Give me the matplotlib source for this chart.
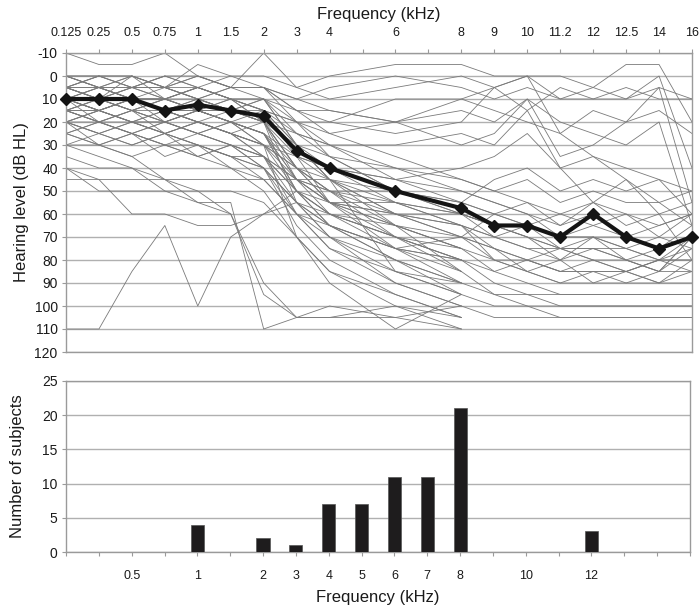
import numpy as np
import matplotlib
matplotlib.use('Agg')
import matplotlib.pyplot as plt

plt.rcParams['font.family'] = ['Liberation Sans', 'DejaVu Sans']
plt.rcParams['axes.unicode_minus'] = False

# ---------------- data ----------------
freq_labels = ['0.125', '0.25', '0.5', '0.75', '1', '1.5', '2', '3', '4', '6',
               '8', '9', '10', '11.2', '12', '12.5', '14', '16']
freq_pos = [0, 1, 2, 3, 4, 5, 6, 7, 8, 10, 12, 13, 14, 15, 16, 17, 18, 19]

median_hl = [10, 10, 10, 15, 12.5, 15, 17.5, 32.5, 40, 50, 57.5, 65, 65, 70, 60, 70, 75, 70]

N = np.nan
subject_hl = [
    [-10, -5, -5, -10, 0, 5, -10, 5, 0, -5, -5, 0, 0, 0, 5, -5, -5, 20],
    [0, 0, 5, 0, 5, 0, 0, 5, 10, 5, 0, 5, 0, 10, 5, 10, 0, 40],
    [5, 10, 5, 5, 10, 5, 5, 10, 5, 0, 5, 10, 5, 10, 10, 10, 5, 10],
    [10, 5, 0, 5, 0, 5, 5, 15, 20, 10, 10, 5, 0, 25, 15, 20, 5, 55],
    [0, 5, 10, 10, 5, 10, 15, 20, 25, 20, 15, 20, 10, 20, 25, 30, 20, 65],
    [15, 10, 15, 20, 15, 10, 20, 25, 30, 30, 25, 30, 15, 40, 35, 40, 45, 60],
    [5, 0, 0, 5, -5, 0, 5, 10, 15, 20, 30, 25, 10, 35, 30, 20, 15, 25],
    [10, 15, 10, 10, 15, 20, 15, 20, 20, 25, 20, 5, 15, 5, 10, 5, 10, 10],
    [20, 15, 20, 15, 20, 25, 30, 35, 40, 45, 40, 35, 25, 40, 55, 45, 60, 80],
    [15, 20, 15, 15, 10, 15, 10, 15, 15, 20, 10, 15, 20, 25, 35, 45, 55, 65],
    [10, 10, 15, 20, 15, 20, 25, 40, 45, 50, 60, 65, 70, 75, 80, 85, 80, 75],
    [5, 10, 5, 10, 5, 10, 10, 30, 40, 55, 60, 70, 65, 75, 75, 80, 85, 70],
    [15, 20, 25, 20, 25, 20, 30, 45, 55, 60, 65, 70, 75, 80, 70, 75, 80, 70],
    [10, 5, 10, 15, 10, 15, 15, 35, 40, 45, 50, 55, 60, 70, 65, 70, 75, 65],
    [20, 25, 20, 25, 20, 25, 20, 40, 50, 60, 70, 75, 80, 85, 85, 90, 85, 85],
    [0, 5, 0, 10, 5, 10, 15, 25, 35, 40, 50, 55, 60, 65, 55, 60, 65, 60],
    [25, 20, 25, 30, 25, 30, 35, 45, 50, 55, 65, 80, 85, 90, 90, 90, 90, 90],
    [10, 15, 10, 10, 15, 10, 20, 30, 35, 50, 55, 60, 65, 70, 70, 75, 70, 75],
    [5, 10, 10, 15, 20, 15, 20, 40, 50, 65, 75, 85, 90, 95, 95, 95, 95, 95],
    [15, 10, 15, 10, 5, 10, 15, 30, 45, 55, 65, 75, 80, 85, 80, 85, 80, 80],
    [20, 15, 10, 15, 20, 25, 30, 50, 55, 60, 60, 65, 65, 70, 70, 70, 75, 70],
    [10, 10, 5, 5, 10, 15, 10, 25, 30, 40, 45, 50, 55, 60, 55, 65, 60, 55],
    [5, 0, 5, 0, 0, 5, 10, 20, 30, 45, 55, 60, 65, 60, 65, 60, 70, 60],
    [25, 30, 35, 30, 35, 30, 40, 55, 60, 70, 80, 90, 95, 100, 100, 100, 100, 100],
    [30, 30, 25, 30, 35, 40, 45, 60, 65, 75, 85, 95, 100, 105, 105, 105, 105, 105],
    [15, 15, 20, 20, 15, 20, 25, 35, 45, 60, 70, 80, 85, 90, 85, 85, 90, 85],
    [0, 0, 5, 5, 10, 5, 5, 15, 25, 35, 45, 50, 45, 55, 50, 55, 55, 50],
    [10, 20, 15, 25, 20, 25, 30, 40, 50, 50, 55, 45, 40, 50, 45, 50, 45, 50],
    [10, 15, 20, 15, 20, 25, 35, 60, 75, 85, 90, N, N, N, N, N, N, N],
    [5, 10, 10, 15, 15, 20, 25, 50, 65, 80, 95, N, N, N, N, N, N, N],
    [15, 10, 15, 10, 15, 15, 20, 55, 70, 90, 100, N, N, N, N, N, N, N],
    [20, 25, 30, 25, 30, 35, 40, 65, 80, 95, 105, N, N, N, N, N, N, N],
    [10, 5, 10, 15, 20, 25, 30, 70, 85, 100, 110, N, N, N, N, N, N, N],
    [0, 5, 5, 10, 10, 15, 20, 45, 60, 70, 85, N, N, N, N, N, N, N],
    [15, 20, 15, 20, 25, 30, 35, 50, 60, 75, 80, N, N, N, N, N, N, N],
    [25, 20, 25, 30, 30, 35, 45, 60, 70, 80, 90, N, N, N, N, N, N, N],
    [40, 45, 60, 60, 65, 65, 60, 50, 60, 70, 75, N, N, N, N, N, N, N],
    [110, 110, 85, 65, 100, 70, 60, 55, 65, 75, 80, N, N, N, N, N, N, N],
    [45, 45, 45, 45, 45, 45, 45, 45, 45, 85, 95, N, N, N, N, N, N, N],
    [40, 50, 50, 50, 50, 50, 55, 70, 90, 110, 95, N, N, N, N, N, N, N],
    [35, 40, 40, 45, 55, 60, 95, 105, 105, 100, 105, N, N, N, N, N, N, N],
    [30, 35, 40, 50, 55, 55, 110, 105, 100, 105, 110, N, N, N, N, N, N, N],
    [20, 30, 35, 45, 50, 60, 90, 105, 105, 105, 100, N, N, N, N, N, N, N],
    [10, 15, 20, 25, 30, 40, 50, 70, 85, 95, 105, N, N, N, N, N, N, N],
    [5, 5, 10, 5, 10, 15, 20, 35, 55, 75, 90, N, N, N, N, N, N, N],
    [15, 15, 10, 20, 15, 20, 30, 40, 55, 65, 85, N, N, N, N, N, N, N],
    [20, 15, 20, 20, 25, 20, 25, 45, 50, 70, 80, N, N, N, N, N, N, N],
    [5, 10, 0, 5, 5, 10, 15, 30, 45, 65, 75, N, N, N, N, N, N, N],
    [10, 15, 10, 15, 15, 20, 25, 50, 65, 80, 90, 95, 95, 95, 95, 95, 95, 95],
    [15, 20, 20, 25, 20, 25, 35, 55, 70, 85, 95, 100, 100, 100, 100, 100, 100, 100],
    [20, 20, 25, 20, 25, 30, 40, 60, 75, 90, 100, 105, 105, 105, 105, 105, 105, 105],
    [5, 5, 10, 10, 15, 20, 25, 45, 55, 70, 80, 85, 80, 85, 85, 85, 80, 85],
    [10, 10, 15, 10, 15, 15, 20, 40, 55, 65, 75, 80, 80, 75, 80, 80, 85, 75],
    [0, 5, 5, 0, 5, 10, 10, 30, 45, 60, 65, 70, 75, 75, 70, 80, 75, 70],
    [20, 25, 20, 25, 30, 35, 35, 45, 55, 55, 60, 65, 70, 75, 75, 75, 80, 80],
    [5, 0, 0, 5, 0, 5, 5, 20, 35, 50, 60, 65, 70, 80, 75, 80, 85, 70],
    [25, 30, 25, 35, 30, 35, 40, 55, 65, 75, 70, 75, 85, 80, 90, 85, 90, 80],
    [30, 25, 30, 25, 35, 30, 35, 50, 60, 65, 70, 60, 55, 65, 60, 70, 65, 60],
]

bar_labels = ['1', '2', '3', '4', '5', '6', '7', '8', '12']
bar_pos = [4, 6, 7, 8, 9, 10, 11, 12, 16]
bar_counts = [4, 2, 1, 7, 7, 11, 11, 21, 3]

bottom_tick_labels = ['0.5', '1', '2', '3', '4', '5', '6', '7', '8', '10', '12']
bottom_tick_pos = [2, 4, 6, 7, 8, 9, 10, 11, 12, 14, 16]

# ---------------- figure ----------------
W, H = 699, 608
fig = plt.figure(figsize=(W / 100, H / 100), dpi=100)
ax1 = fig.add_axes([66 / W, 1 - 352 / H, 626 / W, 299 / H])
ax2 = fig.add_axes([66 / W, 1 - 552 / H, 624 / W, 171 / H])

spine_c = '#9a9a9a'
grid_c = '#b0b0b0'
text_c = '#1a1a1a'

# ---- top panel ----
for row in subject_hl:
    ax1.plot(freq_pos, row, color='#7a7a7a', lw=0.6, zorder=2)
ax1.plot(freq_pos, median_hl, color='#141414', lw=3.0, marker='D',
         markersize=6.5, zorder=5, clip_on=False)

ax1.set_xlim(0, 19)
ax1.set_ylim(120, -10)
ax1.set_yticks(range(-10, 121, 10))
ax1.yaxis.grid(True, color=grid_c, lw=1.0, zorder=1)
ax1.set_axisbelow(True)
ax1.xaxis.tick_top()
ax1.set_xticks(range(20))
top_labels = [''] * 20
for p, l in zip(freq_pos, freq_labels):
    top_labels[p] = l
ax1.set_xticklabels(top_labels, fontsize=9, color=text_c)
ax1.tick_params(axis='x', direction='out', length=3, color=spine_c, pad=7)
ax1.tick_params(axis='y', direction='out', length=3, color=spine_c, labelsize=10,
                labelcolor=text_c, pad=3)
ax1.xaxis.set_label_position('top')
ax1.set_xlabel('Frequency (kHz)', fontsize=12, color=text_c, labelpad=6)
ax1.set_ylabel('Hearing level (dB HL)', fontsize=12, color=text_c, labelpad=4)
for s in ax1.spines.values():
    s.set_color(spine_c)
    s.set_linewidth(1.0)

# ---- bottom panel ----
ax2.bar(bar_pos, bar_counts, width=0.4, color='#1e1c1d', edgecolor='#555555',
        linewidth=0.5, zorder=3)
ax2.set_xlim(0, 19)
ax2.set_ylim(0, 25)
ax2.set_yticks(range(0, 26, 5))
ax2.yaxis.grid(True, color=grid_c, lw=1.0, zorder=1)
ax2.set_axisbelow(True)
ax2.set_xticks(range(20))
bot_labels = [''] * 20
for p, l in zip(bottom_tick_pos, bottom_tick_labels):
    bot_labels[p] = l
ax2.set_xticklabels(bot_labels, fontsize=9, color=text_c)
ax2.tick_params(axis='x', direction='out', length=3, color=spine_c, pad=10)
ax2.tick_params(axis='y', direction='out', length=3, color=spine_c, labelsize=10,
                labelcolor=text_c, pad=3)
ax2.set_xlabel('Frequency (kHz)', fontsize=12, color=text_c, labelpad=6)
ax2.set_ylabel('Number of subjects', fontsize=12, color=text_c, labelpad=12)
for s in ax2.spines.values():
    s.set_color(spine_c)
    s.set_linewidth(1.0)

fig.savefig('out.png', dpi=100)
